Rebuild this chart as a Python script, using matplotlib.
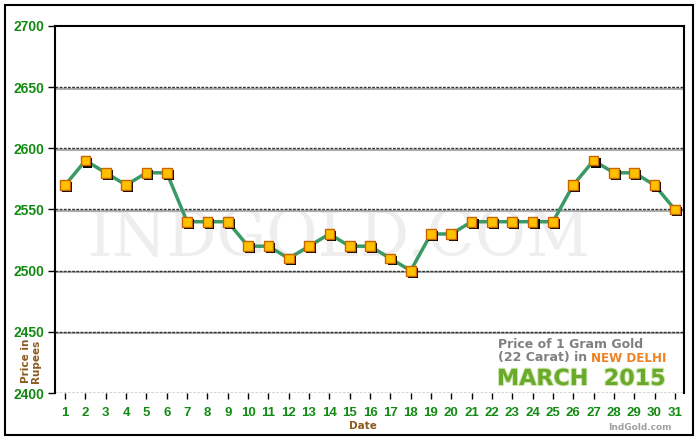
import matplotlib.pyplot as plt
import matplotlib.patheffects as pe
from matplotlib.patches import Rectangle

# Data
days = list(range(1, 32))
prices = [2570, 2590, 2580, 2570, 2580, 2580, 2540, 2540, 2540, 2520,
          2520, 2510, 2520, 2530, 2520, 2520, 2510, 2500, 2530, 2530,
          2540, 2540, 2540, 2540, 2540, 2570, 2590, 2580, 2580, 2570, 2550]
y_ticks = [2400, 2450, 2500, 2550, 2600, 2650, 2700]

green = '#138a13'
brown = '#8b5a1e'

fig = plt.figure(figsize=(7, 4.4), dpi=100)
fig.patches.append(Rectangle((5 / 700, 5 / 440), 688 / 700, 430 / 440,
                             transform=fig.transFigure, fill=False,
                             edgecolor='black', linewidth=1.5))

ax = fig.add_axes([55 / 700, 47 / 440, 629 / 700, 367 / 440])
ax.set_xlim(0.5, 31.45)
ax.set_ylim(2400, 2700)

# grid lines: gray shadow + dark dashed line
for yv in y_ticks[1:-1]:
    ax.axhline(yv - 1.2, color='#b0b0b0', linewidth=1.5, zorder=1)
    ax.axhline(yv, color='#333333', linewidth=1, linestyle=(0, (2, 1)), zorder=1)

# watermark
ax.text(0.452, 0.42, 'INDGOLD.COM', transform=ax.transAxes, ha='center', va='center',
        fontsize=45, family='DejaVu Serif', color='#eeeeee', zorder=0)

ax.plot(days, prices, color='#3a9a66', linewidth=2.5, zorder=3)
ax.plot(days, prices, linestyle='none', marker='s', markersize=7,
        markerfacecolor='#ffc000', markeredgecolor='#c86400', markeredgewidth=1,
        zorder=4,
        path_effects=[pe.SimplePatchShadow(offset=(1.5, -1.5), shadow_rgbFace='black', alpha=1),
                      pe.Normal()])

ax.set_xticks(days)
ax.set_xticklabels([str(d) for d in days], family='Liberation Sans',
                   fontweight='bold', fontsize=9.5)
ax.set_yticks(y_ticks)
ax.set_yticklabels([str(v) for v in y_ticks], family='Liberation Sans',
                   fontweight='bold', fontsize=10)
ax.tick_params(axis='y', colors='black', labelcolor=green, length=5, width=1, pad=3)
ax.tick_params(axis='x', colors='black', labelcolor=green, length=4, width=1, pad=6)

for s in ax.spines.values():
    s.set_linewidth(1.5)
ax.spines['bottom'].set_visible(False)
ax.axhline(2400, color='#333333', linewidth=1, linestyle=(0, (2, 1)), zorder=2)

fig.text(363 / 700, 1 - 426 / 440, 'Date', ha='center', va='center',
         fontsize=7.5, fontweight='bold', color=brown)
fig.text(31 / 700, 1 - 361 / 440, 'Price in\nRupees', ha='center', va='center',
         rotation=90, fontsize=7.5, fontweight='bold', color=brown, linespacing=1.1)

# title box
fig.text(498 / 700, 1 - 345 / 440, 'Price of 1 Gram Gold', ha='left', va='center',
         fontsize=9, fontweight='bold', color='#808080')
fig.text(498 / 700, 1 - 358 / 440, '(22 Carat) in ', ha='left', va='center',
         fontsize=9, fontweight='bold', color='#808080')
fig.text(591 / 700, 1 - 358 / 440, 'NEW DELHI', ha='left', va='center',
         fontsize=8.6, fontweight='bold', color='#f08020')
fig.text(497 / 700, 1 - 379 / 440, 'MARCH  2015', ha='left', va='center',
         fontsize=16, fontweight='bold', color='#6aaa2a',
         path_effects=[pe.withStroke(linewidth=1.5, foreground='#cfe6b0')])
fig.text(672 / 700, 1 - 427 / 440, 'IndGold.com', ha='right', va='center',
         fontsize=6.5, fontweight='bold', color='#a0a0a0')

fig.savefig('out.png', dpi=100)
